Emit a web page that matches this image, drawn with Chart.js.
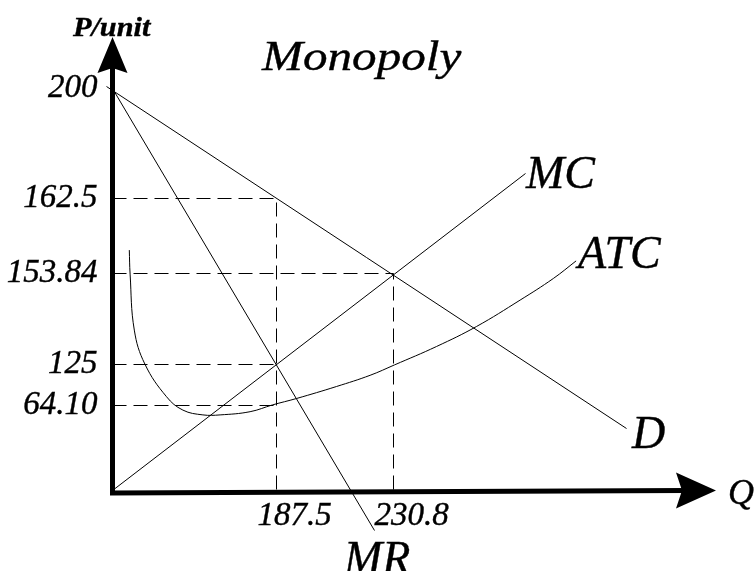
<!DOCTYPE html>
<html>
<head>
<meta charset="utf-8">
<script src="https://cdn.jsdelivr.net/npm/chart.js@4/dist/chart.umd.min.js"></script>
<style>
  body { margin: 0; background: #fff; }
  canvas { display: block; }
</style>
</head>
<body>
<canvas id="chart" width="754" height="571"></canvas>
<script>
// schematic units: the drawing is not to scale, so the axes run in plain
// diagram units and the real values only show up as tick labels
const qTicks = [41, 70.25];
const qTickLabels = ['187.5', '230.8'];
const pTicks = [100.5, 73, 54.25, 31.5, 21.25];
const pTickLabels = ['200', '162.5', '153.84', '125', '64.10'];

// demand and marginal revenue
const demandQ = [-1.5, 128.5];
const demandP = [101, 15.5];
const mrQ = [0, 65.5];
const mrP = [100.5, -10];
// marginal cost
const mcQ = [0, 103.25];
const mcP = [0, 79.25];
// average total cost (U shape)
const atcQ = [4.2, 4.4, 5.45, 8.1, 13.5, 17.6, 22.6, 26.9, 34.4, 40, 46, 56, 64.4, 70.5, 81, 91, 101.9, 110.2, 115.9];
const atcP = [60.1, 54.1, 40.1, 31.6, 23.45, 20.1, 18.9, 18.9, 19.7, 21.4, 23, 26, 28.8, 31.4, 36, 41, 47.6, 53, 57.4];

const curveNames = ['D', 'MR', 'MC', 'ATC'];
const SERIF = "'Liberation Serif', 'Times New Roman', serif";

function pts(xs, ys) {
    return xs.map((x, i) => ({x: x, y: ys[i]}));
}

function solid(label, xs, ys, extra) {
    return Object.assign({
        label: label,
        data: pts(xs, ys),
        borderColor: '#000',
        borderWidth: 1,
        pointRadius: 0,
        fill: false,
        clip: false
    }, extra || {});
}

function dashed(xs, ys) {
    return solid('guide', xs, ys, {borderDash: [14, 7]});
}

// guide lines go from the axes to the points picked out by the ticks
const guides = [
    dashed([0, qTicks[0], qTicks[0]], [pTicks[1], pTicks[1], 0]),
    dashed([0, qTicks[1], qTicks[1]], [pTicks[2], pTicks[2], 0]),
    dashed([0, qTicks[0]], [pTicks[3], pTicks[3]]),
    dashed([0, qTicks[0]], [pTicks[4], pTicks[4]])
];

function label(ctx, text, x, y) {
    ctx.fillText(text, x, y);
    ctx.strokeText(text, x, y);
}

const axesAndText = {
    id: 'axesAndText',
    afterDraw(chart) {
        const ctx = chart.ctx;
        const x = chart.scales.x, y = chart.scales.y;
        const ox = x.getPixelForValue(0), oy = y.getPixelForValue(0);
        const right = chart.chartArea.right, top = chart.chartArea.top;
        ctx.save();
        ctx.fillStyle = '#000';
        ctx.strokeStyle = '#000';
        ctx.lineWidth = 5;
        ctx.lineCap = 'butt';
        ctx.beginPath();
        ctx.moveTo(ox, top + 30);
        ctx.lineTo(ox, oy + 2.5);
        ctx.lineTo(right - 30, oy);
        ctx.stroke();

        // arrow heads
        ctx.beginPath();
        ctx.moveTo(ox, top);
        ctx.lineTo(ox + 15, top + 36);
        ctx.lineTo(ox, top + 31);
        ctx.lineTo(ox - 15, top + 36);
        ctx.closePath();
        ctx.fill();
        ctx.beginPath();
        ctx.moveTo(right, oy);
        ctx.lineTo(right - 40, oy - 18);
        ctx.lineTo(right - 34, oy);
        ctx.lineTo(right - 40, oy + 18);
        ctx.closePath();
        ctx.fill();

        ctx.textBaseline = 'alphabetic';
        ctx.textAlign = 'left';
        ctx.lineWidth = 0.4;

        // title and axis name come out a little wider than the font
        ctx.save();
        ctx.font = 'italic 42px ' + SERIF;
        ctx.translate(262, 70);
        ctx.scale(1.17, 1);
        label(ctx, 'Monopoly', 0, 0);
        ctx.restore();

        ctx.save();
        ctx.font = 'bold italic 27px ' + SERIF;
        ctx.translate(73, 36);
        ctx.scale(1.12, 1);
        label(ctx, 'P/unit', 0, 0);
        ctx.restore();

        ctx.font = 'italic 36px ' + SERIF;
        label(ctx, 'Q', 728, 504);

        ctx.font = 'italic 46px ' + SERIF;
        label(ctx, curveNames[0], 632, 448);
        label(ctx, curveNames[1], 344, 573);
        label(ctx, curveNames[2], 526, 188);
        label(ctx, curveNames[3], 578, 268);
        ctx.restore();
    }
};

function draw() {
    new Chart(document.getElementById('chart'), {
        type: 'line',
        data: {
            datasets: [
                solid('D', demandQ, demandP),
                solid('MR', mrQ, mrP),
                solid('MC', mcQ, mcP),
                solid('ATC', atcQ, atcP, {tension: 0.4})
            ].concat(guides)
        },
        options: {
            responsive: false,
            devicePixelRatio: 1,
            animation: false,
            layout: {padding: {top: 37, right: 38, left: 0, bottom: 0}},
            plugins: {
                legend: {display: false},
                tooltip: {enabled: false},
                title: {display: false}
            },
            scales: {
                x: {
                    type: 'linear',
                    min: 0,
                    max: 150.875,
                    grid: {display: false, drawTicks: false},
                    border: {display: false},
                    afterFit(scale) { scale.height = 80.5; },
                    afterBuildTicks(scale) {
                        scale.ticks = qTicks.map(v => ({value: v}));
                    },
                    ticks: {
                        autoSkip: false,
                        maxRotation: 0,
                        padding: 6,
                        labelOffset: 18,
                        color: '#000',
                        textStrokeColor: '#000',
                        textStrokeWidth: 0.4,
                        font: {family: SERIF, size: 33, style: 'italic'},
                        callback: (v, i) => qTickLabels[i]
                    }
                },
                y: {
                    type: 'linear',
                    min: 0,
                    max: 113.375,
                    grid: {display: false, drawTicks: false},
                    border: {display: false},
                    afterFit(scale) { scale.width = 112.5; },
                    afterBuildTicks(scale) {
                        scale.ticks = pTicks.map(v => ({value: v}));
                    },
                    ticks: {
                        autoSkip: false,
                        padding: 15,
                        color: '#000',
                        textStrokeColor: '#000',
                        textStrokeWidth: 0.4,
                        font: {family: SERIF, size: 33, style: 'italic'},
                        callback: (v, i) => pTickLabels[i]
                    }
                }
            }
        },
        plugins: [axesAndText]
    });
}

Promise.all([
    document.fonts.load("italic 33px 'Liberation Serif'"),
    document.fonts.load("bold italic 27px 'Liberation Serif'")
]).then(draw, draw);
</script>
</body>
</html>
